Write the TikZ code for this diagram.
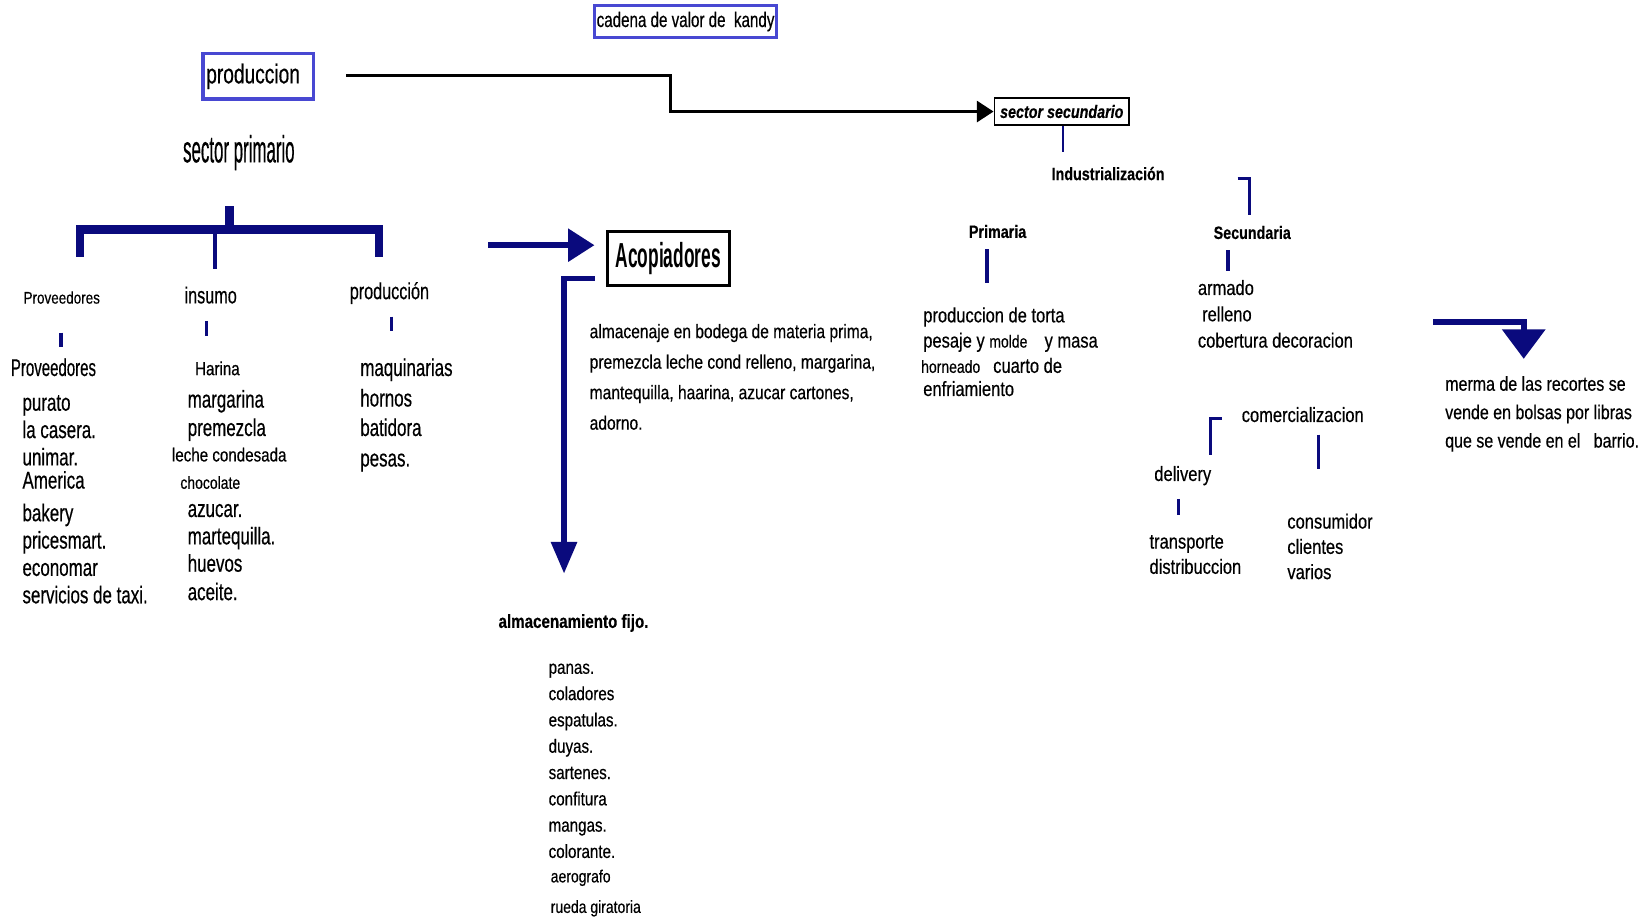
\documentclass[tikz,border=0pt]{standalone}
\usepackage{fontspec}
\setmainfont{Liberation Sans}[FakeStretch=0.80, FakeBold=0.4]
\newfontfamily\flist{Liberation Sans}[FakeStretch=0.70, FakeBold=0.4]
\newfontfamily\fprov{Liberation Sans}[FakeStretch=0.62, FakeBold=0.4]
\newfontfamily\fsec{Liberation Sans}[FakeStretch=0.445, FakeBold=0.4]
\newfontfamily\facop{Liberation Sans}[FakeStretch=0.50]
\newfontfamily\fprod{Liberation Sans}[FakeStretch=0.70, FakeBold=0.4]
\newfontfamily\fcad{Liberation Sans}[FakeStretch=0.72, FakeBold=0.4]
\usetikzlibrary{arrows.meta}
\definecolor{navy}{RGB}{10,10,125}
\definecolor{boxblue}{RGB}{72,72,210}
\newcommand\setfs[2]{\fontsize{#1}{#2}\selectfont}

\tikzset{
  txt/.style={inner sep=0pt, anchor=west, text height=7.3pt, text depth=2pt, font=\setfs{9.8pt}{12pt}},
  lst/.style={inner sep=0pt, anchor=west, text height=8.6pt, text depth=2.3pt, font=\flist\setfs{11.5pt}{13pt}},
  small/.style={txt, text height=6.2pt, text depth=1.7pt, font=\setfs{8.3pt}{10pt}},
  head/.style={inner sep=0pt, font=\bfseries\setfs{8.5pt}{10pt}},
  stub/.style={draw=navy, line width=1.5pt},
  bar/.style={draw=navy, line width=4pt, line join=miter},
  bluebox/.style={draw=boxblue, line width=1.4pt, inner sep=0pt}
}

\begin{document}
\begin{tikzpicture}[x=0.5pt,y=-0.5pt]
\useasboundingbox[fill=white] (0,0) rectangle (1568,878);

% ---- title and left block ----
\node[bluebox, minimum width=86.5pt, minimum height=15.5pt, font=\fcad\setfs{10pt}{12pt}] (cadena) at (651.5,20.5) {cadena de valor de \ kandy};
\node[bluebox, line width=1.6pt, minimum height=21.5pt, text width=49.5pt, inner xsep=1.5pt, align=left, font=\fprod\setfs{13pt}{15pt}] (prod) at (245.5,72.5) {produccion};
\node[inner sep=0pt, font=\fsec\setfs{18pt}{20pt}] (secprim) at (227,145) {sector primario};

% tree under sector primario
\coordinate (stemtop) at (218,196);
\coordinate (stembot) at (218,218);
\coordinate (brl) at (76,244);
\coordinate (brlt) at (76,218);
\coordinate (brrt) at (360,218);
\coordinate (brr) at (360,244);
\coordinate (midt) at (204,221);
\coordinate (midb) at (204,256);
\draw[bar] (stemtop) -- (stembot);
\draw[bar] (brl) -- (brlt) -- (brrt) -- (brr);
\draw[navy, line width=2pt] (midt) -- (midb);

\node[small, font=\setfs{8pt}{10pt}] (provhead) at (22,284) {Proveedores};
\node[lst, font=\flist\setfs{11pt}{13pt}] (insumo) at (175,282) {insumo};
\node[lst, font=\flist\setfs{11pt}{13pt}] (prodcol) at (332,278) {producción};

\coordinate (p1a) at (58,316);  \coordinate (p1b) at (58,330);
\coordinate (p2a) at (196,305); \coordinate (p2b) at (196,319);
\coordinate (p3a) at (372,301); \coordinate (p3b) at (372,315);
\draw[stub] (p1a) -- (p1b);
\draw[stub] (p2a) -- (p2b);
\draw[stub] (p3a) -- (p3b);

\node[lst, font=\fprov\setfs{11.5pt}{13pt}] (provtitle) at (10,351) {Proveedores};
\foreach \t/\y [count=\i] in {purato/384, la casera./410, unimar./436, America/458, bakery/489, pricesmart./515, economar/541, servicios de taxi./567}
  \node[lst, name=prov\i] at (21,\y) {\t};

\node[small, font=\setfs{9pt}{10pt}] (harina) at (185,352) {Harina};
\foreach \t/\x/\y [count=\i] in {margarina/178/381, premezcla/178/408, azucar./178/485, martequilla./178/511, huevos/178/537, aceite./178/564}
  \node[lst, name=ins\i] at (\x,\y) {\t};
\node[small, font=\setfs{9pt}{10pt}] (leche) at (163,434) {leche condesada};
\node[small] (choco) at (171,460) {chocolate};

\foreach \t/\y [count=\i] in {maquinarias/351, hornos/380, batidora/408, pesas./437}
  \node[lst, name=maq\i] at (342,\y) {\t};

% ---- acopiadores ----
\coordinate (arrA) at (464,233);
\coordinate (arrB) at (565,233);
\draw[navy, line width=3pt, -{Triangle[length=12.5pt,width=15pt]}] (arrA) -- (arrB);

\node[draw, line width=1.5pt, minimum width=58pt, minimum height=25.5pt, inner sep=0pt, font=\facop\bfseries\setfs{16.5pt}{18pt}] (acop) at (635,245.5) {Acopiadores};

\coordinate (dnA) at (565,265);
\coordinate (dnK) at (536,265);
\coordinate (dnB) at (536,545);
\draw[navy, line width=2.5pt, line join=miter, -{Triangle[length=15pt,width=12pt]}] (dnA) -- (dnK) -- (dnB);

\foreach \t/\y [count=\i] in {{almacenaje en bodega de materia prima,}/316, {premezcla leche cond relleno, margarina,}/345, {mantequilla, haarina, azucar cartones,}/374, {adorno.}/403}
  \node[txt, font=\setfs{9.25pt}{12pt}, name=par\i] at (560,\y) {\t};

\node[head, font=\bfseries\setfs{9pt}{10pt}] (fijo) at (545,592) {almacenamiento fijo.};
\foreach \t/\y [count=\i] in {panas./635, coladores/660, espatulas./685, duyas./710, sartenes./735, confitura/760, mangas./785, colorante./810}
  \node[txt, font=\setfs{9pt}{11pt}, name=tool\i] at (521,\y) {\t};
\node[small] (aero) at (523,834) {aerografo};
\node[small] (rueda) at (523,863) {rueda giratoria};

% ---- sector secundario ----
\node[draw, line width=0.8pt, minimum width=64pt, minimum height=13pt, inner sep=0pt, font=\bfseries\itshape\setfs{8.5pt}{10pt}] (secsec) at (1009,106) {sector secundario};
\coordinate (bkA) at (329,72);
\coordinate (bkK) at (637,72);
\draw[line width=1.5pt, line join=miter, -{Triangle[length=8pt,width=10pt]}] (bkA) -- (bkK) |- (secsec.west);

\coordinate (ssA) at (1010,120); \coordinate (ssB) at (1010,144);
\draw[navy, line width=1.1pt] (ssA) -- (ssB);
\node[head] (indus) at (1053,165) {Industrialización};

\coordinate (ibA) at (1176,170); \coordinate (ibK) at (1187,170); \coordinate (ibB) at (1187,204);
\draw[stub, line join=miter] (ibA) -- (ibK) -- (ibB);

\node[head] (primaria) at (948,220) {Primaria};
\node[head] (secundaria) at (1190,221) {Secundaria};
\coordinate (prA) at (938,237); \coordinate (prB) at (938,269);
\draw[stub] (prA) -- (prB);
\coordinate (scA) at (1167,238); \coordinate (scB) at (1167,258);
\draw[stub] (scA) -- (scB);

\node[txt] (torta) at (877,301) {produccion de torta};
\node[txt] (pesaje) at (877,325) {pesaje y {\setfs{8.3pt}{10pt}molde}\hspace{6pt} y masa};
\node[txt] (horneado) at (875,349) {{\setfs{8.3pt}{10pt}horneado}\hspace{4pt} cuarto de};
\node[txt] (enfria) at (877,371) {enfriamiento};

\node[txt] (armado) at (1138,275) {armado};
\node[txt] (relleno) at (1142,300) {relleno};
\node[txt] (cobertura) at (1138,325) {cobertura decoracion};

% merma arrow
\coordinate (mmA) at (1362,306);
\coordinate (mmB) at (1448,341);
\draw[navy, line width=3pt, line join=miter, -{Triangle[length=14pt,width=20pt]}] (mmA) -| (mmB);
\foreach \t/\y [count=\i] in {merma de las recortes se/366, vende en bolsas por libras/393, {que se vende en el \ \ barrio.}/420}
  \node[txt, font=\setfs{9.5pt}{12pt}, name=merma\i] at (1373,\y) {\t};

% comercializacion
\node[inner sep=0pt, font=\setfs{9.8pt}{12pt}] (comer) at (1238,394) {comercializacion};
\coordinate (cbA) at (1161,398); \coordinate (cbK) at (1150,398); \coordinate (cbB) at (1150,432);
\draw[stub, line join=miter] (cbA) -- (cbK) -- (cbB);
\coordinate (crA) at (1253,413); \coordinate (crB) at (1253,446);
\draw[stub] (crA) -- (crB);

\node[inner sep=0pt, font=\setfs{9.8pt}{12pt}] (delivery) at (1124,452) {delivery};
\coordinate (dvA) at (1120,474); \coordinate (dvB) at (1120,489);
\draw[stub] (dvA) -- (dvB);
\node[txt] (transp) at (1092,516) {transporte};
\node[txt] (distri) at (1092,540) {distribuccion};
\node[txt] (consu) at (1223,497) {consumidor};
\node[txt] (clien) at (1223,521) {clientes};
\node[txt] (vario) at (1223,545) {varios};
\end{tikzpicture}
\end{document}
